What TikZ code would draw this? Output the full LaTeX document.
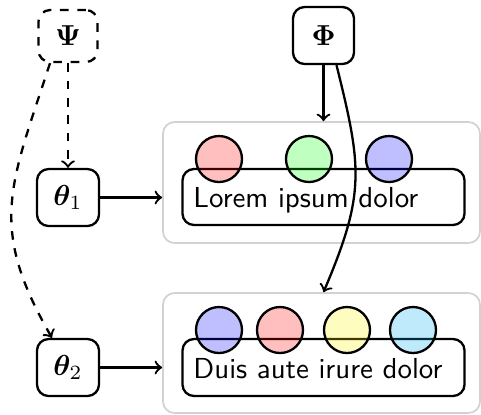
\documentclass[tikz,border=0pt]{standalone}
\usepackage{bm}
\newcommand\pxu{0.346pt}

\begin{document}
\begin{tikzpicture}[x=\pxu,y=-\pxu,
    param/.style={draw,thick,rounded corners,minimum width=62*\pxu,minimum height=57*\pxu},
    group/.style={draw=gray!35,semithick,rounded corners,minimum width=317*\pxu,minimum height=120*\pxu},
    seq/.style={draw,thick,rounded corners,minimum height=56*\pxu,text width=90pt,inner xsep=3.8pt,
        align=left,text height=7.5pt,text depth=0pt,font=\sffamily},
    tok/.style={circle,draw,thick,minimum size=46*\pxu,fill opacity=0.25}]
    \useasboundingbox (0,0) rectangle (481,414);
    % 
    \node[param,dashed,minimum width=59*\pxu,minimum height=52*\pxu] (psi) at (68,36) {$\bm{\Psi}$};
    \node[param,minimum width=61*\pxu] (phi) at (323.5,35.5) {$\bm{\Phi}$};
    \node[param] (th1) at (68,197.5) {$\bm{\theta}_1$};
    \node[param] (th2) at (68,367.5) {$\bm{\theta}_2$};
    % 
    \node[group,minimum height=121*\pxu] (box1) at (321.5,182.5) {};
    \node[seq] (seq1) at (323.5,197) {Lorem ipsum dolor};
    \node[tok,fill=red] (t11) at (219,159) {};
    \node[tok,fill=green] (t12) at (309,159) {};
    \node[tok,fill=blue] (t13) at (389,159) {};
    % 
    \node[group] (box2) at (321.5,353) {};
    \node[seq,minimum height=57*\pxu] (seq2) at (323.5,367.5) {Duis aute irure dolor};
    \node[tok,fill=blue] (t21) at (219,330) {};
    \node[tok,fill=red] (t22) at (280,330) {};
    \node[tok,fill=yellow] (t23) at (347,330) {};
    \node[tok,fill=cyan] (t24) at (413,330) {};
    % 
    \draw[thick,dashed,->] (psi) -- (th1);
    \draw[thick,dashed,->] ([xshift=-18*\pxu]psi.south) to[out=-108,in=120,looseness=1.2] ([xshift=-16*\pxu]th2.north);
    \draw[thick,->] (phi.south) -- (phi.south |- box1.north);
    \draw[thick,->] ([xshift=13*\pxu]phi.south) to[out=-76,in=67,looseness=1.2] (phi.south |- box2.north);
    \draw[thick,->] (th1) -- (th1 -| box1.west);
    \draw[thick,->] (th2) -- (th2 -| box2.west);
\end{tikzpicture}
\end{document}
